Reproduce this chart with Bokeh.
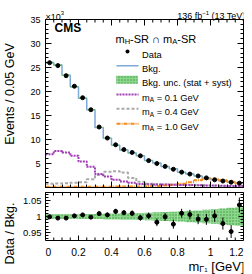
import math
from bokeh.plotting import figure
from bokeh.layouts import column
from bokeh.models import (LinearAxis, FixedTicker, CustomJSTickFormatter, Label,
                          Range1d, BoxAnnotation, Arrow)
from bokeh.core.properties import value
from bokeh.embed import file_html
from bokeh.resources import INLINE

# ---------------- data ----------------
bin_edges = [0.0, 0.05, 0.1, 0.15, 0.2, 0.25, 0.3, 0.35, 0.4, 0.45, 0.5, 0.55, 0.6,
             0.65, 0.7, 0.75, 0.8, 0.85, 0.9, 0.95, 1.0, 1.05, 1.1, 1.15, 1.2]
# events per bin in units of 10^3
data_k = [26.0, 25.4, 23.3, 21.1, 18.7, 16.2, 12.6, 10.3, 8.9, 7.9, 7.3, 6.6,
          5.6, 5.0, 4.4, 3.8, 3.2, 2.8, 2.4, 2.0, 1.6, 1.35, 1.1, 0.9]
bkg_k = [26.0, 25.5, 23.4, 21.0, 18.6, 16.2, 12.5, 10.25, 8.8, 7.8, 7.2, 6.6,
         5.6, 5.1, 4.4, 3.9, 3.2, 2.8, 2.4, 2.0, 1.6, 1.38, 1.15, 0.87]
bkg_unc_rel = [0.007, 0.007, 0.007, 0.007, 0.008, 0.008, 0.008, 0.009, 0.009, 0.010,
               0.010, 0.011, 0.012, 0.013, 0.014, 0.015, 0.016, 0.018, 0.019, 0.021,
               0.023, 0.025, 0.027, 0.029]
sig_ma01 = [6.95, 7.6, 7.3, 6.6, 5.4, 4.3, 2.8, 2.3, 1.6, 1.25, 1.0, 0.75,
            0.7, 0.65, 0.6, 0.55, 0.5, 0.5, 0.45, 0.4, 0.4, 0.35, 0.3, 0.3]
sig_ma04 = [0.8, 0.85, 0.9, 1.0, 1.1, 1.7, 2.6, 3.3, 3.4, 3.1, 2.0, 1.2,
            0.8, 0.7, 0.6, 0.55, 0.5, 0.45, 0.45, 0.4, 0.35, 0.3, 0.3, 0.25]
sig_ma10 = [0.15, 0.15, 0.15, 0.15, 0.15, 0.15, 0.15, 0.15, 0.2, 0.2, 0.2, 0.2,
            0.25, 0.3, 0.4, 0.55, 0.8, 1.1, 1.5, 1.8, 1.8, 1.5, 1.2, 0.9]
ratio = [0.999, 0.995, 0.995, 1.002, 1.005, 0.998, 1.009, 1.005, 1.016, 1.012, 1.010, 0.996,
         1.002, 0.982, 0.999, 0.976, 1.010, 1.006, 0.992, 0.991, 1.002, 0.978, 0.953, 1.036]
ratio_err = [0.004, 0.004, 0.004, 0.005, 0.005, 0.005, 0.006, 0.007, 0.008, 0.008, 0.009, 0.009,
             0.010, 0.012, 0.012, 0.014, 0.014, 0.015, 0.016, 0.017, 0.018, 0.019, 0.020, 0.023]

main_major = [0, 5, 10, 15, 20, 25, 30, 35]
x_major = [0, 0.2, 0.4, 0.6, 0.8, 1.0, 1.2]
x_tick_labels = ["0", "0.2", "0.4", "0.6", "0.8", "1", "1.2"]
ratio_major = [0.95, 1.0, 1.05]

FONT = "Liberation Sans"
C_BKG = "#7fa9d9"
C_BAND = "#7fd07f"
C_HATCH = "#3b9b3b"
C_01 = "#a03cb4"
C_04 = "#a9a9a9"
C_10 = "#f58a1f"
D_01 = "2 1"
D_04 = "3 2"
D_10 = "4 1 1 1"

lo = bin_edges[:-1]
hi = bin_edges[1:]
centers = [(a + b) / 2 for a, b in zip(lo, hi)]


def step_xy(vals):
    xs, ys = [], []
    for a, b, v in zip(lo, hi, vals):
        xs += [a, b]
        ys += [v, v]
    return xs, ys


W = {' ': 278, '-': 333, '.': 278, '/': 278, '(': 333, ')': 333, '[': 278, ']': 278,
     '+': 584, '=': 584, '×': 584, '−': 584, 'A': 667, 'B': 667, 'C': 722, 'D': 722,
     'E': 667, 'G': 778, 'H': 722, 'M': 833, 'R': 722, 'S': 667, 'T': 611, 'V': 667,
     'a': 556, 'b': 556, 'c': 500, 'e': 556, 'f': 278, 'g': 556, 'k': 500, 'm': 833,
     'n': 556, 's': 500, 't': 278, 'u': 556, 'v': 500, 'y': 500, 'Γ': 556, '∩': 722}


def tw(s, size):
    return sum(W.get(c, 556) for c in s) / 1000.0 * size


def seg_text(fig, ox, oy, x, y, segments, align="left", color="black"):
    """segments in window coordinates; (ox, oy) = window coords of the frame's bottom-left"""
    total = sum(tw(t, s) for t, s, dy in segments)
    cx = x if align == "left" else x - total
    for t, s, dy in segments:
        stripped = t.lstrip(" ")
        cx += tw(t[:len(t) - len(stripped)], s)
        fig.add_layout(Label(x=cx - ox, y=oy - (y + dy), x_units="screen", y_units="screen",
                             text=stripped, text_font=FONT, text_font_size=f"{s}px",
                             text_color=color, text_baseline="alphabetic", text_align="left"))
        cx += tw(stripped, s)


def add_axis(fig, loc, ticks, minor, labels, size, maj, mnr, fmt_code, standoff=4,
             bounds=None, title=None, title_standoff=4):
    ax = LinearAxis(ticker=FixedTicker(ticks=ticks, minor_ticks=minor))
    if bounds is not None:
        ax.bounds = bounds
    ax.major_tick_in = maj
    ax.major_tick_out = 0
    ax.minor_tick_in = mnr
    ax.minor_tick_out = 0
    ax.axis_line_color = "black"
    ax.major_tick_line_color = "black"
    ax.minor_tick_line_color = "black"
    if labels:
        ax.formatter = CustomJSTickFormatter(code=fmt_code)
        ax.major_label_text_font = FONT
        ax.major_label_text_font_size = f"{size}px"
        ax.major_label_text_color = "black"
        ax.major_label_standoff = standoff
    else:
        ax.formatter = CustomJSTickFormatter(code="return ''")
        ax.major_label_text_font_size = "0px"
        ax.major_label_standoff = 0
    if title:
        ax.axis_label = title
        ax.axis_label_text_font = FONT
        ax.axis_label_text_font_size = "12.5px"
        ax.axis_label_text_font_style = "normal"
        ax.axis_label_text_color = "black"
        ax.axis_label_standoff = title_standoff
    fig.add_layout(ax, loc)
    return ax


x_minor = [i * 0.05 for i in range(25)]

# window layout (252 x 274): main figure y 0..189, frame x 41..243, data box y 19..187;
# ratio figure y 189..274, frame from y 192 down to 274, data box y 192..240.

# ---------------- main panel ----------------
MAIN_PX = 168.0 / 35.0               # pixels per 10^3 events
p = figure(width=252, height=189, x_range=Range1d(0, 1.2),
           y_range=Range1d(0, 35 * 187.0 / 168.0),
           output_backend="svg", toolbar_location=None, title=None,
           x_axis_location=None, y_axis_location=None, min_border=0,
           min_border_left=41, min_border_right=9, min_border_top=0, min_border_bottom=2)
p.xgrid.visible = False
p.ygrid.visible = False
p.outline_line_color = None
p.background_fill_color = "white"
p.border_fill_color = "white"

y_minor = list(range(0, 36))
add_axis(p, "left", main_major, y_minor, True, 9, 6, 3,
         "return tick == 0 ? '' : tick.toString()", standoff=5, bounds=(0, 35),
         title="Events / 0.05 GeV", title_standoff=10)
add_axis(p, "right", main_major, y_minor, False, 0, 6, 3, "", bounds=(0, 35))
add_axis(p, "below", x_major, x_minor, False, 0, 6, 3, "")
# top edge of the data box with inward ticks
p.segment(x0=[0], y0=[35], x1=[1.2], y1=[35], line_color="black", line_width=1)
p.segment(x0=x_major, y0=[35] * len(x_major), x1=x_major,
          y1=[35 - 6 / MAIN_PX] * len(x_major), line_color="black", line_width=1)
p.segment(x0=x_minor, y0=[35] * len(x_minor), x1=x_minor,
          y1=[35 - 3 / MAIN_PX] * len(x_minor), line_color="black", line_width=1)

bx, by = step_xy(bkg_k)
p.line(bx, by, line_color=C_BKG, line_width=1.5)
p.quad(left=lo, right=hi,
       bottom=[b * (1 - u) for b, u in zip(bkg_k, bkg_unc_rel)],
       top=[b * (1 + u) for b, u in zip(bkg_k, bkg_unc_rel)],
       fill_color=C_BAND, fill_alpha=0.9, line_color=None,
       hatch_pattern="dot", hatch_color=C_HATCH, hatch_scale=3, hatch_weight=1)
for vals, col, dash in [(sig_ma04, C_04, D_04), (sig_ma10, C_10, D_10),
                        (sig_ma01, C_01, D_01)]:
    sx, sy = step_xy(vals)
    p.line(sx, sy, line_color=col, line_width=2, line_dash=dash)
p.scatter(centers, data_k, size=4, color="black")

OX, OY = 41, 187
seg_text(p, OX, OY, 41, 16.7, [("×10", 9, 0), ("3", 6, -3.8)])
seg_text(p, OX, OY, 242, 15.5, [("136 fb", 9, 0), ("−1", 6, -3.2), (" (13 TeV)", 9, 0)],
         align="right")
p.add_layout(Label(x=50 - OX, y=OY - 34, x_units="screen", y_units="screen", text="CMS",
                   text_font=FONT, text_font_style="bold", text_font_size="12px",
                   text_color="black"))
seg_text(p, OX, OY, 111, 38.3, [("m", 11, 0), ("H", 7.5, 2.5), ("-SR ∩ m", 11, 0),
                                ("A", 7.5, 2.5), ("-SR", 11, 0)])
LX = 137.5
LS = 9.3
seg_text(p, OX, OY, LX, 54, [("Data", LS, 0)])
seg_text(p, OX, OY, LX, 68.3, [("Bkg.", LS, 0)])
seg_text(p, OX, OY, LX, 82.5, [("Bkg. unc. (stat + syst)", LS, 0)])
for yb, lab in [(97.3, " = 0.1 GeV"), (111.7, " = 0.4 GeV"), (126, " = 1.0 GeV")]:
    seg_text(p, OX, OY, LX, yb, [("m", LS, 0), ("A", 6.5, 2), (lab, LS, 0)])

p.add_layout(BoxAnnotation(left=121 - OX, right=125 - OX, top=OY - 49, bottom=OY - 53,
                           left_units="screen", right_units="screen", top_units="screen",
                           bottom_units="screen", fill_color="black", fill_alpha=1,
                           line_color=None, border_radius=2))
p.add_layout(BoxAnnotation(left=111.7 - OX, right=133.3 - OX, top=OY - 75.3, bottom=OY - 83.3,
                           left_units="screen", right_units="screen", top_units="screen",
                           bottom_units="screen", fill_color=C_BAND, fill_alpha=0.9,
                           line_color=None, hatch_pattern="dot", hatch_color=C_HATCH,
                           hatch_scale=3, hatch_weight=1))
for yy, col, dash, lw in [(65.3, C_BKG, "solid", 1.5), (94, C_01, D_01, 2),
                          (108.3, C_04, D_04, 2), (123.3, C_10, D_10, 2)]:
    p.add_layout(Arrow(x_start=112 - OX, y_start=OY - yy, x_end=134 - OX, y_end=OY - yy,
                       start_units="screen", end_units="screen", start=None, end=None,
                       line_color=col, line_width=lw, line_dash=dash))

# ---------------- ratio panel ----------------
R_PX = 48.0 / 0.15                   # pixels per unit of ratio
r = figure(width=252, height=85, x_range=Range1d(0, 1.2),
           y_range=Range1d(1.075 - 82.0 / R_PX, 1.075),
           output_backend="svg", toolbar_location=None, title=None,
           x_axis_location=None, y_axis_location=None, min_border=0,
           min_border_left=41, min_border_right=9, min_border_top=3, min_border_bottom=0)
r.xgrid.visible = False
r.ygrid.visible = False
r.outline_line_color = None
r.background_fill_color = "white"
r.border_fill_color = "white"

r_minor = [0.93 + 0.01 * i for i in range(15)]
add_axis(r, "left", ratio_major, r_minor, True, 9.5, 5, 3, "return tick.toString()",
         standoff=4, bounds=(0.925, 1.075), title="Data / Bkg.", title_standoff=3)
add_axis(r, "right", ratio_major, r_minor, False, 0, 5, 3, "", bounds=(0.925, 1.075))
add_axis(r, "above", x_major, x_minor, False, 0, 5, 3, "")
# bottom edge of the ratio box, ticks and labels
r.segment(x0=[0], y0=[0.925], x1=[1.2], y1=[0.925], line_color="black", line_width=1)
r.segment(x0=x_major, y0=[0.925] * len(x_major), x1=x_major,
          y1=[0.925 + 5 / R_PX] * len(x_major), line_color="black", line_width=1)
r.segment(x0=x_minor, y0=[0.925] * len(x_minor), x1=x_minor,
          y1=[0.925 + 3 / R_PX] * len(x_minor), line_color="black", line_width=1)
# edge labels are aligned inwards so that the frame does not clip them
for xs, labs, al in [(x_major[:1], x_tick_labels[:1], "left"),
                     (x_major[1:-1], x_tick_labels[1:-1], "center"),
                     (x_major[-1:], x_tick_labels[-1:], "right")]:
    r.text(x=xs, y=[0.925] * len(xs), text=labs, y_offset=7,
           text_align=al, text_baseline="top", text_font=value(FONT),
           text_font_size=value("10.3px"), text_color="black")

r.quad(left=lo, right=hi, bottom=[1 - u for u in bkg_unc_rel], top=[1 + u for u in bkg_unc_rel],
       fill_color=C_BAND, fill_alpha=0.9, line_color=None,
       hatch_pattern="dot", hatch_color=C_HATCH, hatch_scale=3, hatch_weight=1)
r.segment(x0=centers, y0=[v - e for v, e in zip(ratio, ratio_err)],
          x1=centers, y1=[v + e for v, e in zip(ratio, ratio_err)],
          line_color="black", line_width=1)
r.scatter(centers, ratio, size=4, color="black")

RX, RY = 41, 274
seg_text(r, RX, RY, 184, 266, [("m", 13, 0), ("Γ", 9, 2.5), ("1", 6, 3.5), (" [GeV]", 13, 0)])

layout = column(p, r, spacing=0)
open("out.html", "w").write(file_html(layout, INLINE))
